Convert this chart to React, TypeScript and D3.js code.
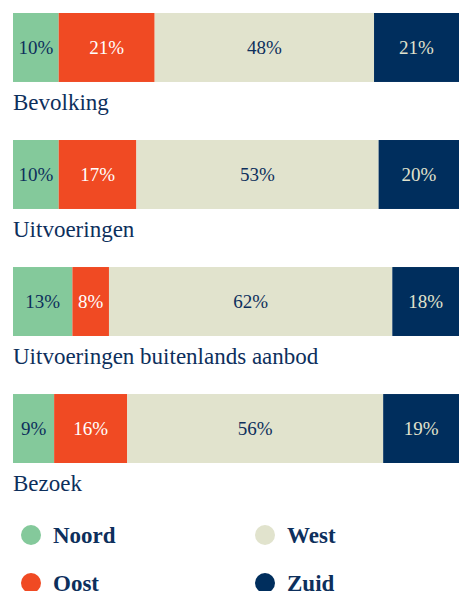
import React from 'react'
import * as d3 from 'd3'

const categories = ['Bevolking', 'Uitvoeringen', 'Uitvoeringen buitenlands aanbod', 'Bezoek']
const regions = ['Noord', 'Oost', 'West', 'Zuid']
const noord = [10, 10, 13, 9]
const oost = [21, 17, 8, 16]
const west = [48, 53, 62, 56]
const zuid = [21, 20, 18, 19]

const fills = ['#84c99b', '#f04a23', '#e1e3cd', '#002e5d']
const labelColors = ['#0d2f5c', '#ffffff', '#0d2f5c', '#e1e3cd']
const navy = '#0d2f5c'

const App = () => {
    const width = 459,
        height = 591
    const left = 13

    // bars run slightly past the right edge, as in the source
    const x = d3.scaleLinear().domain([0, 100]).range([left, 470])
    const y = d3.scaleBand().domain(categories).range([13, 463]).paddingInner(0.457).paddingOuter(0)
    const bandH = y.bandwidth()

    const rows = categories.map((c, i) => {
        const vals = [noord[i], oost[i], west[i], zuid[i]]
        const stacked = d3.stack<number[]>().keys(['0', '1', '2', '3'])
            .value((d, k) => d[+k])([vals])
        return { c, segs: stacked.map((s, j) => ({ j, x0: s[0][0], x1: s[0][1], v: vals[j] })) }
    })

    const font = '"Liberation Serif", "DejaVu Serif", serif'

    return (
        <svg width={width} height={height} style={{ position: 'absolute', left: 0, top: 0 }}>
            {rows.map(r => {
                const y0 = y(r.c) as number
                return (
                    <g key={r.c}>
                        {r.segs.map(s => {
                            const a = x(s.x0), b = Math.min(x(s.x1), width)
                            return (
                                <g key={s.j}>
                                    <rect x={a} y={y0} width={x(s.x1) - a} height={bandH} fill={fills[s.j]} />
                                    <text x={(a + b) / 2} y={y0 + bandH / 2} dy="0.35em" textAnchor="middle"
                                        fill={labelColors[s.j]} fontFamily={font} fontSize={19}>{s.v}%</text>
                                </g>
                            )
                        })}
                        <text x={left} y={y0 + bandH + 28} fill={navy} fontFamily={font} fontSize={23}>{r.c}</text>
                    </g>
                )
            })}
            {regions.map((reg, i) => {
                // legend: Noord, Oost in left column; West, Zuid in right column
                const cx = i < 2 ? 31 : 265
                const cy = i % 2 === 0 ? 535 : 583
                return (
                    <g key={reg}>
                        <circle cx={cx} cy={cy} r={10} fill={fills[i]} />
                        <text x={cx + 22} y={cy + 8} fill={navy} fontFamily={font}
                            fontSize={23} fontWeight="bold">{reg}</text>
                    </g>
                )
            })}
        </svg>
    )
}

export default App
